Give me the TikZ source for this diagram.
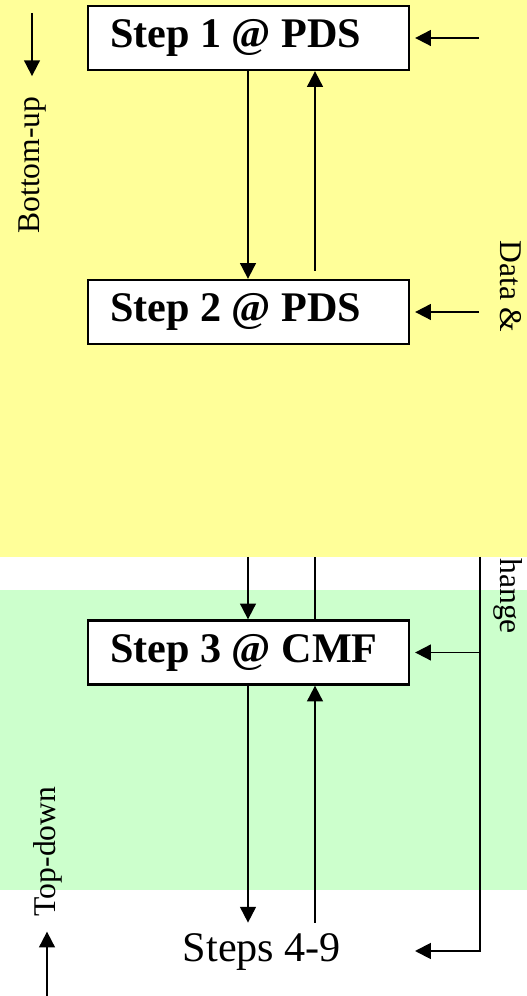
\documentclass[tikz,border=0pt]{standalone}
\usepackage{fontspec}
\setmainfont{Liberation Serif}
\usepackage{tikz}
\usetikzlibrary{arrows.meta,calc,positioning}

\definecolor{gelb}{RGB}{255,255,153}
\definecolor{gruen}{RGB}{204,255,204}

\begin{document}
\begin{tikzpicture}[
        >={Triangle[length=9pt, width=9pt]},
        stepbox/.style = {draw = black, fill = white, line width = 1.3pt, inner xsep = 0.44cm, minimum height = 1.28cm, font = \fontsize{24}{28}\selectfont\bfseries, execute at begin node = {\hbox to 5.54cm\bgroup}, execute at end node = {\hss\egroup}},
        pfeil/.style = {->, line width = 1.1pt},
        linie/.style = {line width = 1.1pt},
        seite/.style = {font = \fontsize{18}{22}\selectfont, inner sep = 0pt}
    ]
        % Hintergrund
            \useasboundingbox (0,0) rectangle (10.54, 19.92);
            \fill[gelb] (0, 8.78) rectangle (10.54, 19.92);
            \fill[gruen] (0, 2.12) rectangle (10.54, 8.12);
        
        % Kaesten
            \node[stepbox] (step1) at (4.97, 19.16) {Step 1 @ PDS};
            \node[stepbox] (step2) at (4.97, 13.68) {Step 2 @ PDS};
            \node[stepbox] (step3) at (4.97, 6.87) {Step 3 @ CMF};
            \node[font = \fontsize{24}{28}\selectfont, inner ysep = 6pt] (steps) at (5.24, 0.88) {Steps 4-9};
        
        % Hilfspunkte
            \coordinate (ab) at (4.96, 0);
            \coordinate (auf) at (6.30, 0);
            \coordinate (kante) at (0, 8.78);
            \coordinate (bus) at (9.6, 8.78);
            \coordinate (fbspitze) at (8.30, 0.90);
            \coordinate (bufuss) at (0.64, 19.66);
            \coordinate (tdfuss) at (0.94, 0);
        
        % Pfeile
            \draw[pfeil] (ab |- step1.south) -- (ab |- step2.north);
            \draw[pfeil] ($(auf |- step2.north) + (0, 0.16)$) -- (auf |- step1.south);
            \draw[pfeil] (ab |- kante) -- (ab |- step3.north);
            \draw[linie] (auf |- step3.north) -- (auf |- kante);
            \draw[pfeil] (ab |- step3.south) -- (ab |- steps.north);
            \draw[pfeil] (auf |- steps.north) -- (auf |- step3.south);
        
        % Rueckfuehrung
            \draw[pfeil] (bus) |- (fbspitze);
            \draw[pfeil, shorten >= 0.1cm] ($(bus |- step1.east) + (-0.02, 0)$) -- (step1.east);
            \draw[pfeil, shorten >= 0.1cm] ($(bus |- step2.east) + (-0.02, 0)$) -- (step2.east);
            \draw[pfeil, shorten >= 0.1cm] (bus |- step3.east) -- (step3.east);
        
        % Beschriftungen
            \node[seite, rotate = 90] (bottomup) at (0.66, 16.62) {Bottom-up};
            \node[seite, rotate = 90] (topdown) at (0.96, 2.89) {Top-down};
            \node[seite, rotate = -90, anchor = base west] (daten) at (10.0, 15.12) {Data \&};
            \node[seite, rotate = -90, anchor = base west] (hange) at (10.0, 8.76) {hange};
            \draw[pfeil, shorten >= 0.4cm] (bufuss) -- (bufuss |- bottomup.east);
            \draw[pfeil, shorten >= 0.3cm] (tdfuss) -- (tdfuss |- topdown.west);
    \end{tikzpicture}
\end{document}
